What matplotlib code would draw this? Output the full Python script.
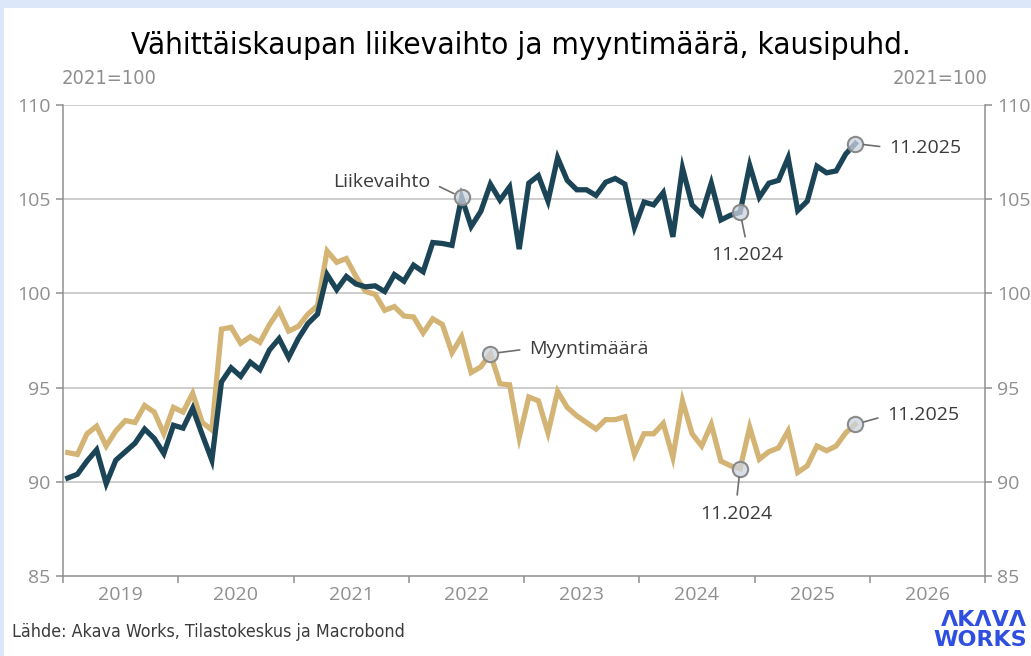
import matplotlib
matplotlib.use('Agg')
import matplotlib.pyplot as plt
from matplotlib.patches import Rectangle
from matplotlib import font_manager
import numpy as np

# ---------------- data ----------------
start_year = 2019
liikevaihto = [90.2, 90.4, 91.1, 91.7, 89.9, 91.15, 91.6, 92.05, 92.8, 92.3, 91.5, 93.0,
               92.85, 93.9, 92.5, 91.15, 95.3, 96.05, 95.6, 96.35, 95.95, 97.0, 97.6, 96.6,
               97.6, 98.4, 98.9, 101.0, 100.2, 100.9, 100.5, 100.35, 100.4, 100.1, 101.0, 100.65,
               101.5, 101.15, 102.7, 102.65, 102.55, 105.1, 103.55, 104.35, 105.8, 104.95, 105.65, 102.35,
               105.85, 106.25, 104.9, 107.2, 106.0, 105.5, 105.5, 105.2, 105.9, 106.1, 105.8, 103.5,
               104.85, 104.7, 105.35, 103.0, 106.65, 104.7, 104.2, 105.85, 103.9, 104.15, 104.3, 106.8,
               105.1, 105.85, 106.0, 107.2, 104.4, 104.9, 106.75, 106.4, 106.5, 107.4, 107.95]
myyntimaara = [91.55, 91.45, 92.55, 92.95, 91.9, 92.7, 93.25, 93.15, 94.05, 93.7, 92.55, 93.95,
               93.7, 94.7, 93.15, 92.75, 98.1, 98.2, 97.35, 97.7, 97.4, 98.35, 99.1, 98.0,
               98.25, 98.9, 99.35, 102.25, 101.65, 101.85, 100.9, 100.1, 99.95, 99.1, 99.3, 98.8,
               98.75, 97.9, 98.65, 98.35, 96.85, 97.7, 95.8, 96.1, 96.8, 95.2, 95.15, 92.35,
               94.5, 94.3, 92.6, 94.8, 93.95, 93.5, 93.15, 92.8, 93.3, 93.3, 93.45, 91.45,
               92.55, 92.55, 93.1, 91.3, 94.3, 92.55, 91.9, 93.05, 91.1, 90.85, 90.7, 92.9,
               91.2, 91.6, 91.8, 92.7, 90.5, 90.85, 91.9, 91.65, 91.9, 92.6, 93.05]
year_labels = ['2019', '2020', '2021', '2022', '2023', '2024', '2025', '2026']
y_ticks = [85, 90, 95, 100, 105, 110]
title = 'Vähittäiskaupan liikevaihto ja myyntimäärä, kausipuhd.'
unit_label = '2021=100'
source = 'Lähde: Akava Works, Tilastokeskus ja Macrobond'
logo = 'ΛKΛVΛ\nWORKS'
label_lv = 'Liikevaihto'
label_mm = 'Myyntimäärä'
idx_lv, idx_mm, idx_prev, idx_last = 41, 44, 70, 82
label_prev, label_last = '11.2024', '11.2025'

n = len(liikevaihto)
x = start_year + (np.arange(n) + 0.5) / 12.0

# ---------------- style ----------------
W, H = 1031, 656
NAVY = '#1b4556'
TAN = '#d3b475'
GRID = '#c9c9c9'
TICKC = '#8f8f8f'
TXT = '#3b3b3b'
SANS = ['Open Sans', 'DejaVu Sans']

fl = font_manager.fontManager.ttflist
if any(f.name == 'Liberation Sans Narrow' for f in fl):
    NARROW = dict(family=['Liberation Sans Narrow'])
    k = 1.0
elif any(f.name == 'DejaVu Sans' and 'ondensed' in f.fname and 'Bold' not in f.fname
         and 'Oblique' not in f.fname for f in fl):
    NARROW = dict(family=['DejaVu Sans'], stretch='condensed')
    k = 0.94
else:
    NARROW = dict(family=['DejaVu Sans'])
    k = 0.84

fig = plt.figure(figsize=(W / 100, H / 100), dpi=100)
fig.patch.set_facecolor('#dde7fa')
fig.patches.append(Rectangle((4 / W, 0), 1 - 4 / W, 1 - 8 / H, transform=fig.transFigure,
                             facecolor='white', edgecolor='none', zorder=-5))

def fx(px):
    return px / W

def fy(py):
    return 1 - py / H

ax = fig.add_axes([fx(63), fy(576), fx(985) - fx(63), fy(105) - fy(576)])
ax.set_zorder(2)
ax.set_facecolor('white')
ax.set_xlim(2019, 2027)
ax.set_ylim(85, 110)

for v in y_ticks[1:]:
    ax.axhline(v, color=GRID, lw=1.3, zorder=1)

ax.plot(x, myyntimaara, color=TAN, lw=3.8, solid_joinstyle='miter', zorder=3)
ax.plot(x, liikevaihto, color=NAVY, lw=3.8, solid_joinstyle='miter', zorder=4)

ax.spines['top'].set_visible(False)
for s in ['left', 'right', 'bottom']:
    ax.spines[s].set_color(TICKC)
    ax.spines[s].set_linewidth(1.1)

ax.set_yticks(y_ticks)
ax.set_yticklabels([str(v) for v in y_ticks])
ax.tick_params(axis='y', which='both', direction='out', length=5, width=1.1, color=TICKC,
               labelcolor=TICKC, labelsize=14, left=True, right=True, labelleft=True,
               labelright=True, pad=4)
ax.set_xticks(np.arange(2019, 2028))
ax.set_xticklabels([''] * 9)
ax.set_xticks(np.arange(2019, 2027) + 0.5, minor=True)
ax.set_xticklabels(year_labels, minor=True)
ax.tick_params(axis='x', which='major', direction='out', length=5, width=1.1, color=TICKC)
ax.tick_params(axis='x', which='minor', length=0, labelcolor=TICKC, labelsize=14, pad=7)
for lab in ax.get_xticklabels(minor=True) + ax.get_yticklabels():
    lab.set_family(SANS)
for t in ax.yaxis.get_major_ticks():
    t.label2.set_family(SANS)

# ---------------- annotations ----------------
def mark(series, i):
    ax.plot([x[i]], [series[i]], marker='o', ms=11, mfc=(0.80, 0.83, 0.88, 0.75),
            mec='#8a8a8a', mew=1.5, zorder=6, linestyle='none')

def note(series, i, text, dx, dy, ha, relpos):
    ax.annotate(text, xy=(x[i], series[i]), xytext=(dx, dy), textcoords='offset pixels',
                ha=ha, va='center', fontsize=14, color=TXT, family=SANS, zorder=7,
                arrowprops=dict(arrowstyle='-', color='#6e6e6e', lw=1.2, shrinkA=5, shrinkB=6,
                                relpos=relpos))

for s, i in [(liikevaihto, idx_lv), (myyntimaara, idx_mm), (liikevaihto, idx_prev),
             (myyntimaara, idx_prev), (liikevaihto, idx_last), (myyntimaara, idx_last)]:
    mark(s, i)

note(liikevaihto, idx_lv, label_lv, -31, 15, 'right', (1.0, 0.5))
note(myyntimaara, idx_mm, label_mm, 39, 5, 'left', (0.0, 0.5))
note(liikevaihto, idx_prev, label_prev, 7, -43, 'center', (0.5, 1.0))
note(myyntimaara, idx_prev, label_prev, -4, -45, 'center', (0.5, 1.0))
note(liikevaihto, idx_last, label_last, 34, -4, 'left', (0.0, 0.5))
note(myyntimaara, idx_last, label_last, 32, 9, 'left', (0.0, 0.5))

# ---------------- texts ----------------
fig.text(fx(521), fy(45), title, ha='center', va='center', fontsize=24 * k, color='black',
         **NARROW)
fig.text(fx(62), fy(78), unit_label, ha='left', va='center', fontsize=15.3 * k, color=TICKC,
         **NARROW)
fig.text(fx(987), fy(78), unit_label, ha='right', va='center', fontsize=15.3 * k, color=TICKC,
         **NARROW)
fig.text(fx(12), fy(632), source, ha='left', va='center', fontsize=13.6 * k, color=TXT,
         **NARROW)
fig.text(fx(1027), fy(630), logo, ha='right', va='center', multialignment='right',
         fontsize=16, color='#2f4fe0', family=['DejaVu Sans'], weight='bold', linespacing=0.95)

fig.savefig('out.png', dpi=100, facecolor=fig.get_facecolor())
